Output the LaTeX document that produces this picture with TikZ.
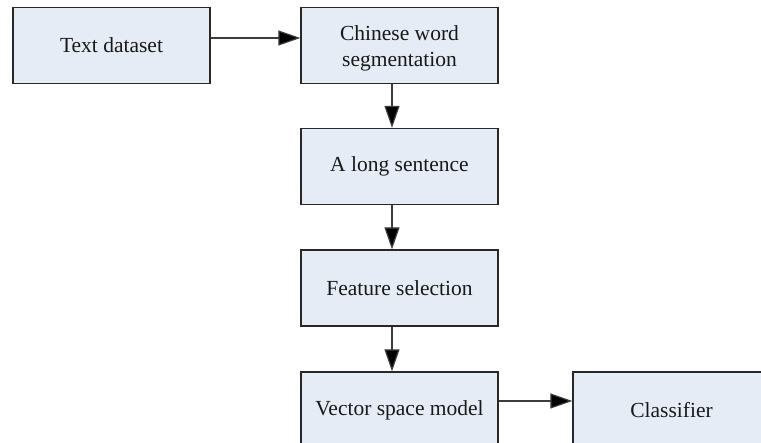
\documentclass[tikz,border=0pt]{standalone}
\usepackage{fontspec}
\setmainfont{Liberation Serif}
\usetikzlibrary{arrows.meta}
\definecolor{boxfill}{RGB}{230,236,246}
\definecolor{boxline}{RGB}{40,40,40}
\definecolor{arrline}{RGB}{60,60,60}
\begin{document}
\begin{tikzpicture}[x=1pt,y=1pt,
  stepbox/.style={draw=boxline, fill=boxfill, line width=1.3pt,
    minimum width=197pt, minimum height=76pt, inner sep=0pt,
    align=center, text=black!90, font=\fontsize{21.5}{26}\selectfont},
  arr/.style={draw=arrline, line width=1.2pt,
    -{Triangle[length=22pt,width=15pt,fill=black]}}]
\useasboundingbox (0,0) rectangle (761,-443);
\clip (0,0) rectangle (761,-443);
\node[stepbox] (td)  at (111.5,-45.5) {Text dataset};
\node[stepbox] (cws) at (399.5,-45.5) {\raisebox{-3pt}[\height][\depth]{\begin{tabular}{@{}c@{}}Chinese word\\segmentation\end{tabular}}};
\node[stepbox] (als) at (399.5,-166.5) {A long sentence};
\node[stepbox] (fs)  at (399.5,-288) {Feature selection};
\node[stepbox] (vsm) at (399.5,-410) {Vector space model};
\node[stepbox] (cls) at (671.5,-410) {Classifier};
\draw[arr] ([yshift=7.5pt]td.east) -- ([yshift=7.5pt]cws.west);
\draw[arr] ([xshift=-7.5pt]cws.south) -- ([xshift=-7.5pt]als.north);
\draw[arr] ([xshift=-7.5pt]als.south) -- ([xshift=-7.5pt]fs.north);
\draw[arr] ([xshift=-7.5pt]fs.south) -- ([xshift=-7.5pt]vsm.north);
\draw[arr] ([yshift=9pt]vsm.east) -- ([yshift=9pt]cls.west);
\end{tikzpicture}
\end{document}
